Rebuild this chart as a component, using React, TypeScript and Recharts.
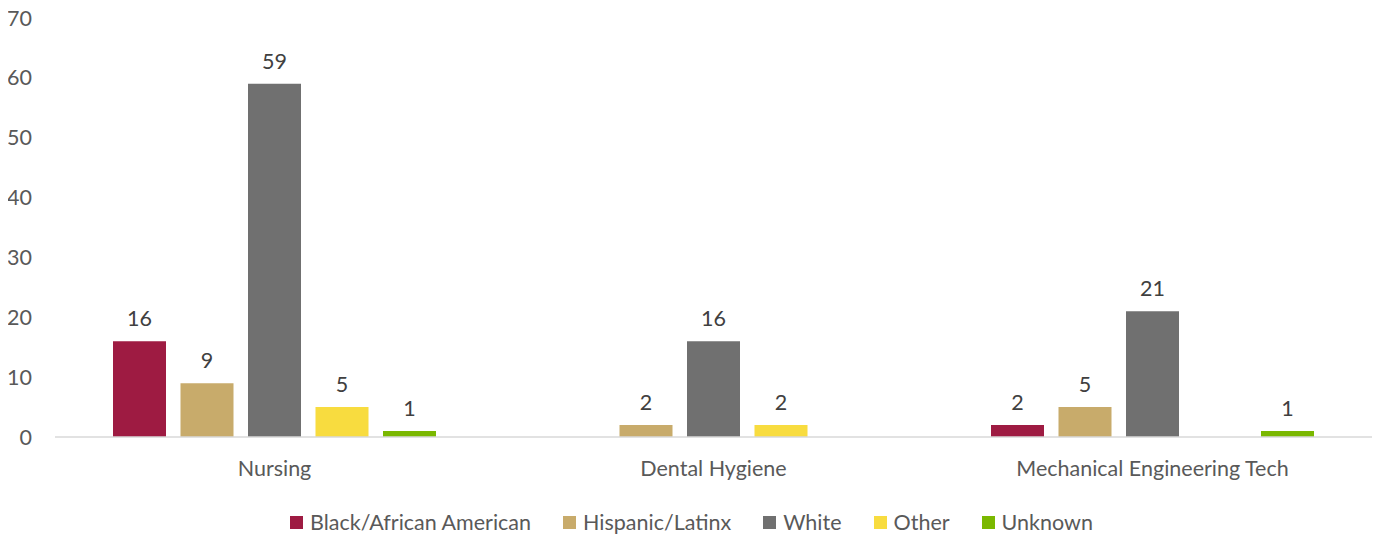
import React from 'react';
import { BarChart, Bar, XAxis, YAxis, LabelList } from 'recharts';

const programs = ['Nursing', 'Dental Hygiene', 'Mechanical Engineering Tech'];
const black = [16, null, 2];
const hispanic = [9, 2, 5];
const white = [59, 16, 21];
const other = [5, 2, null];
const unknown = [1, null, 1];
const yTicks = [0, 10, 20, 30, 40, 50, 60, 70];

const series = [
  { key: 'black', name: 'Black/African American', color: '#9E1B42' },
  { key: 'hispanic', name: 'Hispanic/Latinx', color: '#C8AB6B' },
  { key: 'white', name: 'White', color: '#707070' },
  { key: 'other', name: 'Other', color: '#F8DC3F' },
  { key: 'unknown', name: 'Unknown', color: '#7AB800' },
];

const data = programs.map((p, i) => ({
  program: p,
  black: black[i],
  hispanic: hispanic[i],
  white: white[i],
  other: other[i],
  unknown: unknown[i],
}));

const FONT = 'Lato, "Open Sans", sans-serif';
const FS = 21.5;

const LegendRow = () => (
  <div style={{ display: 'flex', justifyContent: 'center', alignItems: 'center', fontFamily: FONT, fontSize: FS, color: '#595959', lineHeight: '30px' }}>
    {series.map((s) => (
      <div key={s.key} style={{ display: 'flex', alignItems: 'center', margin: '0 16px' }}>
        <span style={{ display: 'inline-block', width: 13, height: 13, background: s.color, marginRight: 7 }} />
        <span>{s.name}</span>
      </div>
    ))}
  </div>
);

export default function App() {
  return (
    <div style={{ marginLeft: -8, marginTop: -8, background: '#fff', width: 1383, height: 539, position: 'relative' }}>
      <BarChart
        width={1383}
        height={539}
        data={data}
        margin={{ top: 18, right: 11, left: 0, bottom: 36 }}
        barCategoryGap={58}
        barGap={14.5}
      >
        <XAxis
          dataKey="program"
          axisLine={{ stroke: '#D9D9D9', strokeWidth: 1.5 }}
          tickLine={false}
          tickSize={0}
          tickMargin={24}
          height={66}
          tick={{ fill: '#595959', fontSize: FS, fontFamily: FONT }}
        />
        <YAxis
          domain={[0, 70]}
          ticks={yTicks}
          axisLine={false}
          tickLine={false}
          tickSize={0}
          tickMargin={23}
          width={55}
          tick={{ fill: '#595959', fontSize: FS, fontFamily: FONT }}
        />
        {series.map((s) => (
          <Bar key={s.key} dataKey={s.key} name={s.name} fill={s.color} isAnimationActive={false}>
            <LabelList
              dataKey={s.key}
              position="top"
              offset={15}
              fill="#404040"
              fontSize={FS}
              fontFamily={FONT}
              formatter={(v: any) => (v == null ? '' : v)}
            />
          </Bar>
        ))}
      </BarChart>
      <div style={{ position: 'absolute', left: 0, top: 507, width: 1383, height: 30 }}>
        <LegendRow />
      </div>
    </div>
  );
}
